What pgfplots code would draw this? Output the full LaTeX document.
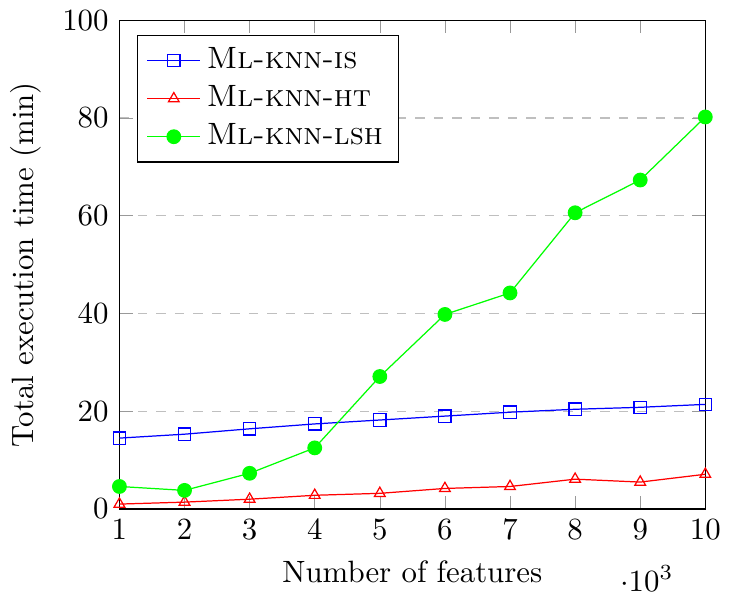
\documentclass[border=0pt]{standalone}
\usepackage{pgfplots}
\pgfplotsset{compat=1.18}
\begin{document}
\begin{tikzpicture}
\begin{axis}[
  scale only axis,
  width=190pt, height=158.5pt,
  xmin=1000, xmax=10000, ymin=0, ymax=100,
  xtick={1000,2000,3000,4000,5000,6000,7000,8000,9000,10000},
  ytick={0,20,40,60,80,100},
  scaled x ticks=base 10:-3,
  ymajorgrids,
  grid style={dashed, gray!50},
  major tick style={gray!80},
  xlabel={Number of features},
  ylabel={Total execution time (min)},
  legend pos=north west,
  legend cell align=left,
]
\addplot[blue, mark=square, mark size=2pt] coordinates {
(1000,14.5) (2000,15.3) (3000,16.4) (4000,17.4) (5000,18.2) (6000,19.0) (7000,19.8) (8000,20.4) (9000,20.8) (10000,21.4)};
\addlegendentry{\textsc{Ml-knn-is}}
\addplot[red, mark=triangle, mark size=2pt] coordinates {
(1000,1.0) (2000,1.4) (3000,2.0) (4000,2.8) (5000,3.2) (6000,4.2) (7000,4.6) (8000,6.1) (9000,5.5) (10000,7.1)};
\addlegendentry{\textsc{Ml-knn-ht}}
\addplot[green, mark=*, mark size=2.2pt] coordinates {
(1000,4.6) (2000,3.8) (3000,7.3) (4000,12.5) (5000,27.1) (6000,39.8) (7000,44.2) (8000,60.6) (9000,67.3) (10000,80.2)};
\addlegendentry{\textsc{Ml-knn-lsh}}
\end{axis}
\end{tikzpicture}
\end{document}
